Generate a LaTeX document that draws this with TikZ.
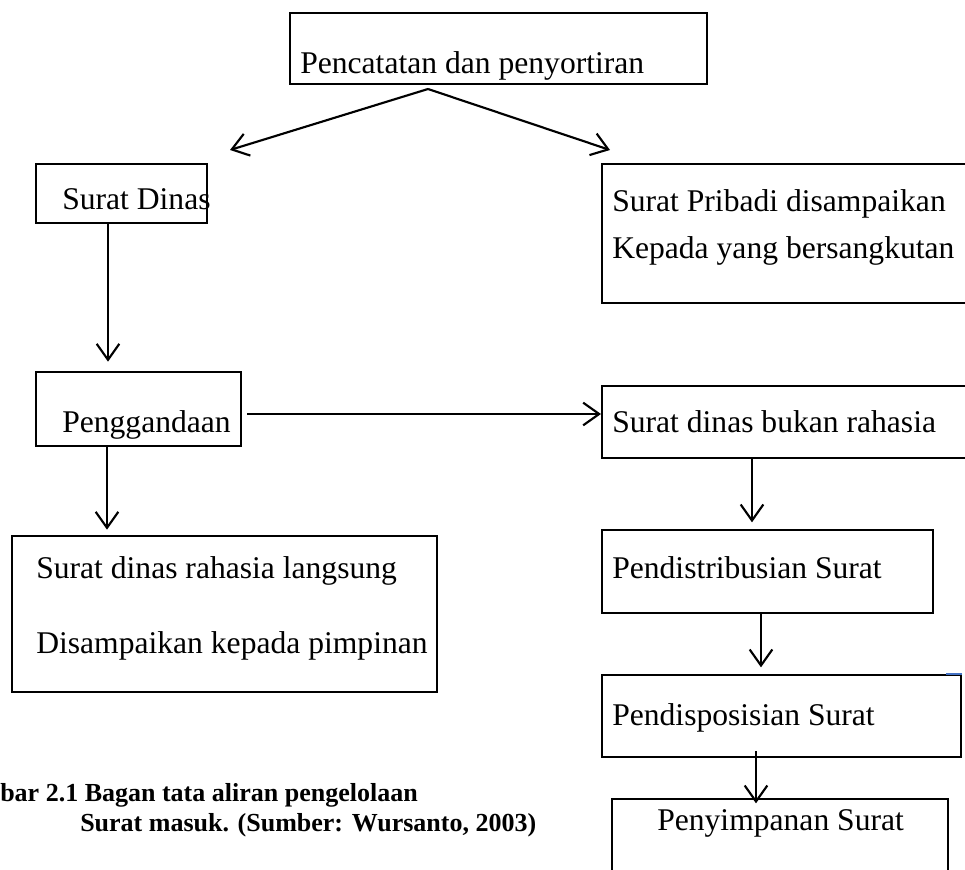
\documentclass[tikz,border=0pt]{standalone}
\usepackage{fontspec}
\setmainfont{Liberation Serif}
\usetikzlibrary{arrows.meta,fit,calc}
\definecolor{blueline}{RGB}{68,114,196}
\tikzset{
  box/.style={draw, line width=1.5pt, inner sep=0pt},
  lbl/.style={anchor=base west, inner sep=0pt, font=\fontsize{23.7}{28}\selectfont},
  captext/.style={anchor=base west, inner sep=0pt, font=\fontsize{19.5}{23}\selectfont\bfseries},
  arr/.style={line width=1.6pt, -{Straight Barb[length=12pt,width=17pt]}}
}
\begin{document}
\begin{tikzpicture}[x=0.75pt,y=-0.75pt]
\useasboundingbox (0,0) rectangle (965,870);
\clip (0,0) rectangle (965,870);
% boxes
\node[box, fit={(290,13) (707,84)}] (pc) {};
\node[box, fit={(36,164) (207,223)}] (sd) {};
\node[box, fit={(602,164) (990,303)}] (sp) {};
\node[box, fit={(36,372) (241,446)}] (pg) {};
\node[box, fit={(602,386) (990,458)}] (sb) {};
\node[box, fit={(12,536) (437,692)}] (sr) {};
\node[box, fit={(602,530) (933,613)}] (pd) {};
\node[box, fit={(602,675) (961,757)}] (ps) {};
\node[box, fit={(612,799) (948,900)}] (py) {};
\draw[blueline, line width=1.2pt] (ps.north east) -- ++(-16,0) coordinate (bl);
% texts
\node[lbl] (t1) at (300,74) {Pencatatan dan penyortiran};
\node[lbl] (t2) at (62,210) {Surat Dinas};
\node[lbl] (t3) at (612,212) {Surat Pribadi disampaikan};
\node[lbl] (t4) at (612,259) {Kepada yang bersangkutan};
\node[lbl] (t5) at (62,432) {Penggandaan};
\node[lbl] (t6) at (612,432) {Surat dinas bukan rahasia};
\node[lbl] (t7) at (36,578) {Surat dinas rahasia langsung};
\node[lbl] (t8) at (36,653) {Disampaikan kepada pimpinan};
\node[lbl] (t9) at (612,578) {Pendistribusian Surat};
\node[lbl] (t10) at (612,725) {Pendisposisian Surat};
\node[lbl] (t11) at (657,830) {Penyimpanan Surat};
\node[captext] (c1) at (0,801) {bar 2.1 Bagan tata aliran pengelolaan};
\node[captext] (c2) at (80,831) {Surat masuk. (Sumber: Wursanto, 2003)};
% connectors
\coordinate (apex) at (428,89);
\coordinate (tipL) at (230,150);
\coordinate (tipR) at (610,150);
\draw[arr] (apex) -- (tipL);
\draw[arr] (apex) -- (tipR);
\draw[arr, shorten >=7] (sd.south -| 108,0) -- (pg.north -| 108,0);
\draw[arr, shorten <=4] (pg.east |- 0,414) -- (sb.west |- 0,414);
\draw[arr, shorten >=4] (pg.south -| 107,0) -- (sr.north -| 107,0);
\draw[arr, shorten >=5] (sb.south -| 752,0) -- (pd.north -| 752,0);
\draw[arr, shorten >=5] (pd.south -| 761,0) -- (ps.north -| 761,0);
\draw[arr, shorten <=-5, shorten >=-4] (ps.south -| 756,0) -- (py.north -| 756,0);
\end{tikzpicture}
\end{document}
